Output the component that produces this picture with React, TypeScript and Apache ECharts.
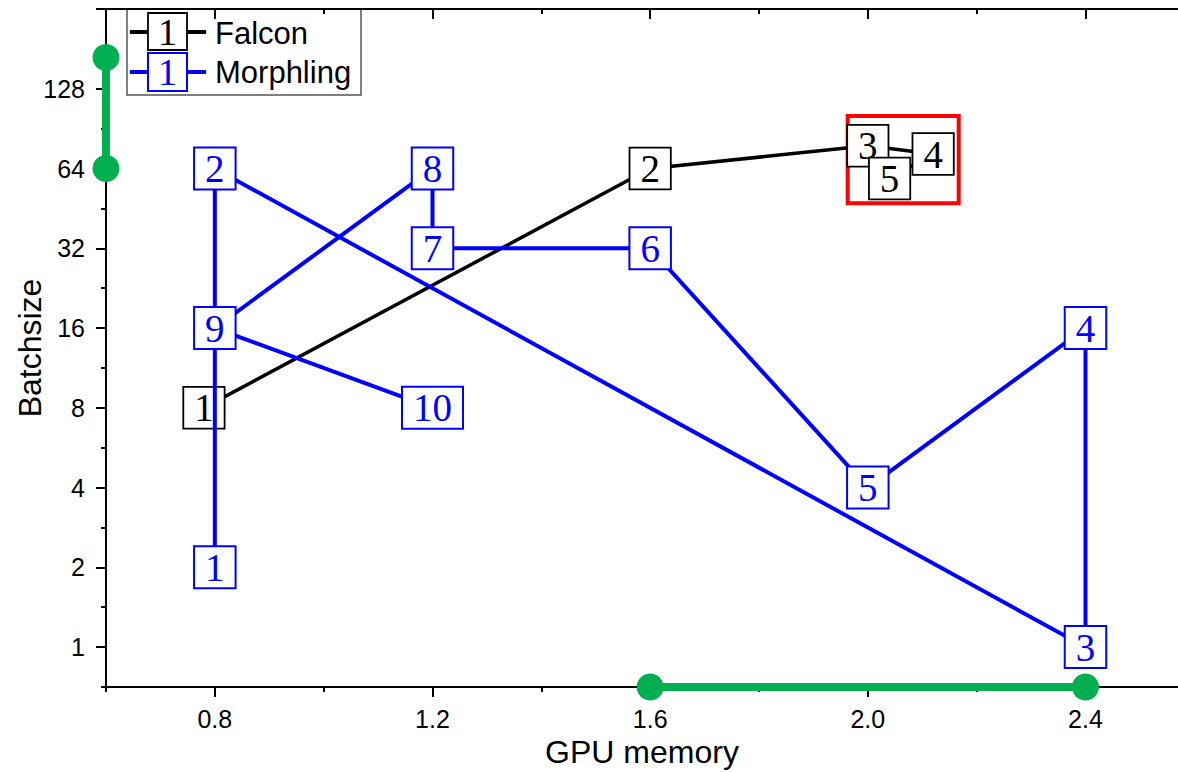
import React, { useEffect, useRef } from "react";
import * as echarts from "echarts";

// ---- data ----
const falconMemory = [0.78, 1.6, 2.0, 2.12, 2.04];
const falconBatch = [8, 64, 78, 72.6, 58.7];
const morphlingMemory = [0.8, 0.8, 2.4, 2.4, 2.0, 1.6, 1.2, 1.2, 0.8, 1.2];
const morphlingBatch = [2, 64, 1, 16, 4, 32, 32, 64, 16, 8];
const memoryRange = [1.6, 2.4];
const batchRange = [64, 168];
const highlightMemory = [1.963, 2.167];
const highlightBatch = [101, 47.3];

// ---- axes ----
const xMin = 0.6;
const xMax = 2.57;
const yMin = 0.70711;
const yMax = 256;
const xMajorTicks = [0.8, 1.2, 1.6, 2.0, 2.4];
const xMinorTicks = [0.6, 1.0, 1.4, 1.8, 2.2];
const yLabelTicks = [1, 2, 4, 8, 16, 32, 64, 128];
const yMajorTicks = [1, 2, 4, 8, 16, 32, 64, 128, 256];
const yMinorTicks = [0.70711, 1.4142, 2.8284, 5.6569, 11.314, 22.627, 45.255, 90.51, 181.02];

const SANS = "Liberation Sans, Arial, sans-serif";
const SERIF = "Liberation Serif, Times New Roman, serif";
const BLUE = "#0000ff";
const GREEN = "#00b050";

const boxLabel = (color: string, bw: number) => ({
  show: true,
  position: "inside",
  formatter: (p: any) => String(p.dataIndex + 1),
  color,
  fontFamily: SERIF,
  fontSize: 39,
  lineHeight: 38,
  backgroundColor: "#ffffff",
  borderColor: color,
  borderWidth: bw,
  padding: [1, 10, 1, 10],
});

const pairs = (xs: number[], ys: number[]) => xs.map((x, i) => [x, ys[i]]);

export default function App() {
  const ref = useRef<HTMLDivElement>(null);
  useEffect(() => {
    if (!ref.current) return;
    const chart = echarts.init(ref.current, undefined, { renderer: "svg" });
    const baseX = { type: "value", min: xMin, max: xMax, splitLine: { show: false } };
    const baseY = { type: "log", logBase: 2, min: yMin, max: yMax, splitLine: { show: false } };
    const option: any = {
      animation: false,
      backgroundColor: "#ffffff",
      grid: { left: 106, right: 0, top: 9, bottom: 85, containLabel: false, outerBoundsMode: "none" },
      xAxis: [
        {
          ...baseX,
          position: "bottom",
          name: "GPU memory",
          nameLocation: "middle",
          nameGap: 49,
          nameMoveOverlap: false,
          nameTextStyle: { fontFamily: SANS, fontSize: 32, color: "#000" },
          axisLine: { show: true, lineStyle: { color: "#000", width: 2 } },
          axisTick: { show: true, customValues: xMajorTicks, length: 10, lineStyle: { color: "#000", width: 2 } },
          axisLabel: {
            customValues: xMajorTicks,
            formatter: (v: number) => v.toFixed(1),
            fontFamily: SANS, fontSize: 25, color: "#000", margin: 19,
          },
        },
        {
          ...baseX,
          position: "bottom",
          axisLine: { show: false },
          axisTick: { show: true, customValues: xMinorTicks, length: 5, lineStyle: { color: "#000", width: 2 } },
          axisLabel: { show: false },
        },
        {
          ...baseX,
          position: "top",
          axisLine: { show: true, lineStyle: { color: "#000", width: 2 } },
          axisTick: { show: true, inside: true, customValues: xMajorTicks, length: 10, lineStyle: { color: "#000", width: 2 } },
          axisLabel: { show: false },
        },
        {
          ...baseX,
          position: "top",
          axisLine: { show: false },
          axisTick: { show: true, inside: true, customValues: xMinorTicks, length: 5, lineStyle: { color: "#000", width: 2 } },
          axisLabel: { show: false },
        },
      ],
      yAxis: [
        {
          ...baseY,
          position: "left",
          name: "Batchsize",
          nameLocation: "middle",
          nameGap: 60,
          nameRotate: 90,
          nameMoveOverlap: false,
          nameTextStyle: { fontFamily: SANS, fontSize: 32, color: "#000" },
          axisLine: { show: true, lineStyle: { color: "#000", width: 2 } },
          axisTick: { show: true, customValues: yMajorTicks, length: 10, lineStyle: { color: "#000", width: 2 } },
          axisLabel: {
            customValues: yLabelTicks,
            formatter: (v: number) => String(Math.round(v)),
            fontFamily: SANS, fontSize: 25, color: "#000", margin: 21,
          },
        },
        {
          ...baseY,
          position: "left",
          axisLine: { show: false },
          axisTick: { show: true, customValues: yMinorTicks, length: 5, lineStyle: { color: "#000", width: 2 } },
          axisLabel: { show: false },
        },
      ],
      series: [
        {
          name: "Falcon",
          type: "line",
          z: 2,
          data: pairs(falconMemory, falconBatch),
          symbol: "rect",
          symbolSize: 2,
          showSymbol: true,
          itemStyle: { color: "#000" },
          lineStyle: { color: "#000", width: 3.5 },
          label: boxLabel("#000000", 1.8),
          clip: false,
          markArea: {
            silent: true,
            itemStyle: { color: "rgba(0,0,0,0)", borderColor: "#ff0000", borderWidth: 4 },
            data: [[
              { coord: [highlightMemory[0], highlightBatch[0]] },
              { coord: [highlightMemory[1], highlightBatch[1]] },
            ]],
          },
        },
        {
          name: "Morphling",
          type: "line",
          z: 3,
          data: pairs(morphlingMemory, morphlingBatch),
          symbol: "rect",
          symbolSize: 2,
          showSymbol: true,
          itemStyle: { color: BLUE },
          lineStyle: { color: BLUE, width: 4 },
          label: boxLabel(BLUE, 2),
          clip: false,
        },
        {
          name: "memoryRange",
          type: "line",
          z: 5,
          data: memoryRange.map((m) => [m, yMin]),
          symbol: "circle",
          symbolSize: 27,
          itemStyle: { color: GREEN },
          lineStyle: { color: GREEN, width: 8 },
          clip: false,
        },
        {
          name: "batchRange",
          type: "line",
          z: 5,
          data: batchRange.map((b) => [xMin, b]),
          symbol: "circle",
          symbolSize: 27,
          itemStyle: { color: GREEN },
          lineStyle: { color: GREEN, width: 8 },
          clip: false,
        },
      ],
      graphic: [
        {
          type: "group",
          z: 100,
          children: [
            { type: "rect", shape: { x: 127, y: 9, width: 234, height: 86 }, style: { fill: "#ffffff", stroke: "#555555", lineWidth: 1.5 } },
            { type: "line", shape: { x1: 130, y1: 32, x2: 206, y2: 32 }, style: { stroke: "#000", lineWidth: 4 } },
            { type: "rect", shape: { x: 148, y: 13, width: 39, height: 37 }, style: { fill: "#fff", stroke: "#000", lineWidth: 1.8 } },
            { type: "text", x: 167.5, y: 32, style: { text: "1", fill: "#000", font: `38px ${SERIF}`, align: "center", verticalAlign: "middle" } },
            { type: "text", x: 215, y: 33, style: { text: "Falcon", fill: "#000", font: `31px ${SANS}`, align: "left", verticalAlign: "middle" } },
            { type: "line", shape: { x1: 130, y1: 72, x2: 206, y2: 72 }, style: { stroke: BLUE, lineWidth: 4 } },
            { type: "rect", shape: { x: 148, y: 53, width: 39, height: 38 }, style: { fill: "#fff", stroke: BLUE, lineWidth: 2 } },
            { type: "text", x: 167.5, y: 72, style: { text: "1", fill: BLUE, font: `38px ${SERIF}`, align: "center", verticalAlign: "middle" } },
            { type: "text", x: 215, y: 72, style: { text: "Morphling", fill: "#000", font: `31px ${SANS}`, align: "left", verticalAlign: "middle" } },
          ],
        },
      ],
    };
    chart.setOption(option);
    return () => chart.dispose();
  }, []);
  return (
    <div
      ref={ref}
      style={{ position: "absolute", left: 0, top: 0, width: 1178, height: 772, background: "#fff" }}
    />
  );
}
